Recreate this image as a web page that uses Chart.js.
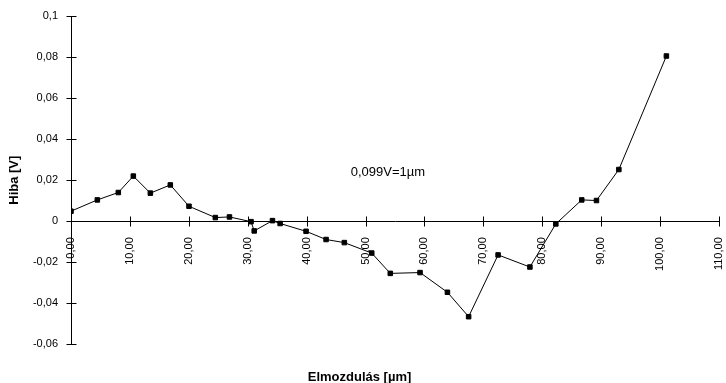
<!DOCTYPE html>
<html><head><meta charset="utf-8">
<script src="https://cdn.jsdelivr.net/npm/chart.js@4.4.1/dist/chart.umd.min.js"></script>
<style>html,body{margin:0;padding:0;background:#fff}</style>
</head><body>
<canvas id="c" width="726" height="383"></canvas>
<script>
// ---- data ----
const displacement = [0, 4.47, 8.03, 10.58, 13.47, 16.86, 20.03, 24.5, 26.9, 30.56, 31.1, 34.2, 35.5, 39.9, 43.3, 46.4, 51.05, 54.2, 59.25, 63.9, 67.5, 72.5, 77.9, 82.3, 86.7, 89.2, 93.0, 101.07];
const errorV = [0.0049, 0.0104, 0.0140, 0.0220, 0.0137, 0.0177, 0.0073, 0.0018, 0.0021, -0.0002, -0.0047, 0.0003, -0.0011, -0.0049, -0.0089, -0.0104, -0.0155, -0.0254, -0.0250, -0.0346, -0.0465, -0.0164, -0.0223, -0.0013, 0.0104, 0.0101, 0.0252, 0.0805];
const xTicks = [0, 10, 20, 30, 40, 50, 60, 70, 80, 90, 100, 110];
const xTickLabels = ["0,00", "10,00", "20,00", "30,00", "40,00", "50,00", "60,00", "70,00", "80,00", "90,00", "100,00", "110,00"];
const yTicks = [-0.06, -0.04, -0.02, 0, 0.02, 0.04, 0.06, 0.08, 0.1];
const yTickLabels = ["-0,06", "-0,04", "-0,02", "0", "0,02", "0,04", "0,06", "0,08", "0,1"];
const xTitle = "Elmozdulás [µm]";
const yTitle = "Hiba [V]";
const noteText = "0,099V=1µm";
const noteAt = [53.8, 0.0237];

const FONT = 'Liberation Sans, Arial, sans-serif';
function labelFor(ticksArr, labels, v) {
  let best = 0;
  for (let i = 1; i < ticksArr.length; i++) if (Math.abs(ticksArr[i] - v) < Math.abs(ticksArr[best] - v)) best = i;
  return labels[best];
}

const crossTicks = {
  id: 'crossTicks',
  afterDraw(chart) {
    const ctx = chart.ctx, xs = chart.scales.x, ys = chart.scales.y;
    ctx.save();
    ctx.strokeStyle = '#000';
    ctx.lineWidth = 1;
    const y0 = Math.round(ys.getPixelForValue(0)) + 0.5;
    const xl = Math.round(chart.chartArea.left) + 0.5;
    ctx.beginPath();
    xTicks.forEach(v => {
      const px = Math.round(xs.getPixelForValue(v)) + 0.5;
      ctx.moveTo(px, y0 - 5); ctx.lineTo(px, y0 + 5);
    });
    yTicks.forEach(v => {
      const py = Math.round(ys.getPixelForValue(v)) + 0.5;
      ctx.moveTo(xl - 5, py); ctx.lineTo(xl + 5, py);
    });
    ctx.stroke();
    ctx.fillStyle = '#000';
    ctx.font = '13px ' + FONT;
    ctx.textAlign = 'center';
    ctx.textBaseline = 'middle';
    ctx.fillText(noteText, xs.getPixelForValue(noteAt[0]), ys.getPixelForValue(noteAt[1]));
    ctx.restore();
  }
};

new Chart(document.getElementById('c'), {
  type: 'line',
  data: {
    datasets: [{
      data: displacement.map((x, i) => ({x: x, y: errorV[i]})),
      borderColor: '#000',
      borderWidth: 1,
      backgroundColor: '#000',
      pointStyle: 'rect',
      pointRadius: 3.2,
      pointBorderWidth: 1,
      pointBackgroundColor: '#000',
      pointBorderColor: '#000',
      tension: 0,
      fill: false
    }]
  },
  options: {
    responsive: false,
    animation: false,
    devicePixelRatio: 1,
    layout: {padding: {left: 0, right: 7, top: 16, bottom: 0}},
    plugins: {
      legend: {display: false},
      tooltip: {enabled: false},
      title: {
        display: true, position: 'bottom', text: xTitle, color: '#000',
        font: {family: FONT, size: 13, weight: 'bold'},
        padding: {top: 25, bottom: -2}
      }
    },
    scales: {
      x: {
        type: 'linear', position: {y: 0}, min: 0, max: 110,
        afterBuildTicks: s => { s.ticks = xTicks.map(v => ({value: v})); },
        afterFit: s => { s.paddingLeft = 0; s.paddingRight = 0; s.paddingTop = 0; s.paddingBottom = 0; },
        grid: {drawOnChartArea: false, drawTicks: false},
        border: {color: '#000', width: 1},
        ticks: {
          minRotation: 90, maxRotation: 90, autoSkip: false, padding: 16,
          color: '#000', font: {family: FONT, size: 11},
          callback: v => labelFor(xTicks, xTickLabels, v)
        }
      },
      y: {
        type: 'linear', position: 'left', min: -0.06, max: 0.1,
        afterBuildTicks: s => { s.ticks = yTicks.map(v => ({value: v})); },
        afterFit: s => { s.width = 71; s.paddingTop = 0; s.paddingBottom = 0; s.paddingLeft = 0; s.paddingRight = 0; },
        grid: {drawOnChartArea: false, drawTicks: false},
        border: {color: '#000', width: 1},
        ticks: {
          padding: 13, color: '#000', font: {family: FONT, size: 11},
          callback: v => labelFor(yTicks, yTickLabels, v)
        },
        title: {
          display: true, text: yTitle, color: '#000',
          font: {family: FONT, size: 13, weight: 'bold'},
          padding: {top: 7, bottom: 0}
        }
      }
    }
  },
  plugins: [crossTicks]
});
</script>
</body></html>
